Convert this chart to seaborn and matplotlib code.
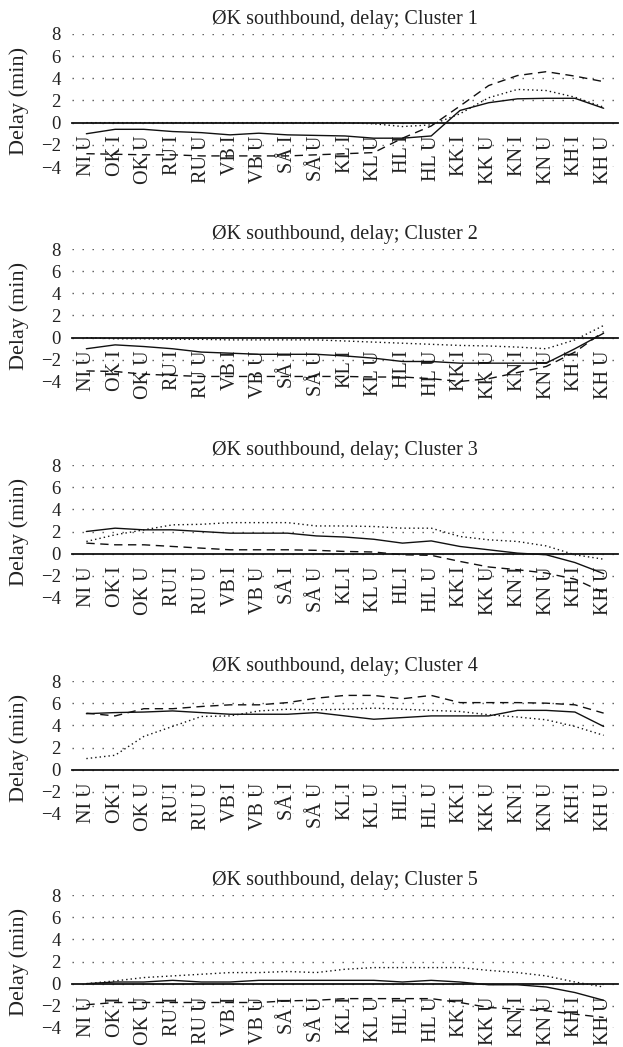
import numpy as np
import pandas as pd
import matplotlib
matplotlib.use("Agg")
import matplotlib.pyplot as plt
import seaborn as sns

stations = ["NI U", "OK I", "OK U", "RU I", "RU U", "VB I", "VB U", "SÅ I", "SÅ U",
            "KL I", "KL U", "HL I", "HL U", "KK I", "KK U", "KN I", "KN U", "KH I", "KH U"]

titles = ["ØK southbound, delay; Cluster 1", "ØK southbound, delay; Cluster 2",
          "ØK southbound, delay; Cluster 3", "ØK southbound, delay; Cluster 4",
          "ØK southbound, delay; Cluster 5"]

y_ticks = [-4, -2, 0, 2, 4, 6, 8]

# Delay per station (minutes): solid, dashed and dotted series for each cluster
c1_solid = [-1.0, -0.6, -0.6, -0.8, -0.9, -1.1, -0.95, -1.1, -1.15, -1.2, -1.4, -1.4, -1.2, 1.1, 1.8, 2.15, 2.2, 2.2, 1.3]
c1_dashed = [-2.8, -2.85, -2.9, -2.9, -3.0, -3.0, -3.0, -3.0, -2.9, -2.8, -2.7, -1.4, -0.3, 1.5, 3.35, 4.25, 4.6, 4.2, 3.7]
c1_dotted = [0.0, 0.0, 0.0, 0.0, 0.0, 0.0, 0.0, 0.0, 0.0, 0.0, -0.1, -0.35, -0.2, 0.8, 2.25, 3.0, 2.9, 2.3, 1.4]

c2_solid = [-1.0, -0.65, -0.8, -1.0, -1.3, -1.4, -1.5, -1.5, -1.5, -1.65, -1.85, -2.15, -2.15, -2.3, -2.3, -2.3, -2.3, -1.0, 0.4]
c2_dashed = [-3.0, -3.05, -3.3, -3.4, -3.5, -3.5, -3.5, -3.5, -3.5, -3.5, -3.55, -3.55, -3.7, -3.95, -3.7, -3.15, -2.6, -1.3, 0.55]
c2_dotted = [0.0, -0.1, -0.1, -0.15, -0.15, -0.2, -0.2, -0.2, -0.2, -0.3, -0.4, -0.5, -0.6, -0.7, -0.75, -0.85, -1.0, -0.2, 1.1]

c3_solid = [2.0, 2.3, 2.15, 2.15, 2.0, 1.85, 1.85, 1.85, 1.6, 1.5, 1.3, 0.95, 1.15, 0.65, 0.35, 0.05, -0.1, -0.8, -1.8]
c3_dashed = [0.95, 0.8, 0.8, 0.65, 0.5, 0.35, 0.35, 0.35, 0.3, 0.2, 0.15, -0.1, -0.15, -0.7, -1.2, -1.45, -1.75, -2.3, -3.5]
c3_dotted = [1.1, 1.7, 2.15, 2.6, 2.65, 2.8, 2.8, 2.8, 2.5, 2.5, 2.45, 2.3, 2.3, 1.55, 1.25, 1.1, 0.7, -0.1, -0.5]

c4_solid = [5.05, 5.15, 5.2, 5.3, 5.15, 5.0, 5.0, 5.0, 5.15, 4.85, 4.55, 4.7, 4.85, 4.85, 4.85, 5.35, 5.35, 5.2, 3.9]
c4_dashed = [5.1, 4.85, 5.5, 5.5, 5.7, 5.85, 5.85, 6.05, 6.45, 6.7, 6.7, 6.4, 6.7, 6.05, 6.05, 6.05, 6.0, 5.85, 5.1]
c4_dotted = [1.0, 1.3, 3.0, 3.9, 4.8, 4.85, 5.3, 5.45, 5.4, 5.45, 5.55, 5.45, 5.35, 5.25, 4.95, 4.75, 4.5, 3.9, 3.1]

c5_solid = [0.0, 0.15, 0.15, 0.3, 0.15, 0.15, 0.3, 0.3, 0.3, 0.3, 0.3, 0.15, 0.3, 0.15, -0.1, -0.1, -0.3, -0.8, -1.5]
c5_dashed = [-1.9, -1.7, -1.7, -1.7, -1.7, -1.7, -1.7, -1.55, -1.5, -1.35, -1.35, -1.35, -1.35, -1.7, -2.15, -2.3, -2.45, -2.75, -3.05]
c5_dotted = [0.0, 0.25, 0.55, 0.7, 0.85, 1.0, 1.0, 1.1, 1.0, 1.3, 1.45, 1.45, 1.45, 1.45, 1.2, 1.0, 0.7, 0.15, -0.3]

clusters = [
    (c1_solid, c1_dashed, c1_dotted),
    (c2_solid, c2_dashed, c2_dotted),
    (c3_solid, c3_dashed, c3_dotted),
    (c4_solid, c4_dashed, c4_dotted),
    (c5_solid, c5_dashed, c5_dotted),
]

sns.set_theme(style="white")
plt.rcParams["font.family"] = ["Liberation Serif", "DejaVu Serif"]

W, H = 623, 1047
fig = plt.figure(figsize=(W / 100, H / 100), dpi=100)

# panel frame in pixels
left_px, width_px, height_px = 72, 546, 133
panel_tops_px = [34, 249, 465, 681, 895]

styles = ["-", (0, (6, 4)), (0, (1, 2.2))]

for title, series, top_px in zip(titles, clusters, panel_tops_px):
    ax = fig.add_axes([left_px / W, 1 - (top_px + height_px) / H,
                       width_px / W, height_px / H])

    for vals, ls in zip(series, styles):
        df = pd.DataFrame({"station": stations, "delay": vals})
        sns.lineplot(data=df, x="station", y="delay", sort=False, ax=ax,
                     color="#111111", linewidth=1.0, linestyle=ls)

    ax.set_xlim(-0.5, len(stations) - 0.5)
    ax.set_ylim(-4, 8)
    ax.set_yticks(y_ticks)
    ax.set_xticks(range(len(stations)))
    ax.set_xticklabels(stations)
    ax.tick_params(axis="y", labelsize=13.5, length=0, pad=8, colors="#222222")
    ax.tick_params(axis="x", labelsize=14.5, length=0, pad=9, colors="#222222",
                   labelrotation=90)

    for side in ["top", "right", "left"]:
        ax.spines[side].set_visible(False)
    ax.spines["bottom"].set_position(("data", 0))
    ax.spines["bottom"].set_color("#111111")
    ax.spines["bottom"].set_linewidth(1.3)

    ax.yaxis.grid(True, linestyle=(0, (1, 6.2)), color="#555555", linewidth=1.0)
    ax.xaxis.grid(False)
    ax.set_axisbelow(True)

    ax.set_xlabel("")
    ax.set_ylabel("Delay (min)", fontsize=16, color="#222222")
    ax.yaxis.set_label_coords(-(left_px - 29) / width_px, 0.5)
    ax.set_title(title, fontsize=14.5, pad=7, color="#222222")

fig.savefig("out.png", dpi=100)
